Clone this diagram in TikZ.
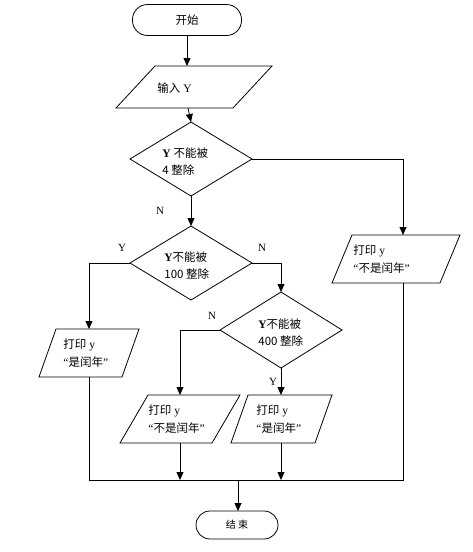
\documentclass[tikz,border=0pt]{standalone}
\usepackage{fontspec}
\setmainfont{Liberation Serif}
\newfontfamily\cjk{Noto Sans CJK SC}
\newcommand{\zh}[1]{{\cjk #1}}
\usetikzlibrary{shapes.geometric,arrows.meta}
\begin{document}
\begin{tikzpicture}[x=1pt,y=-1pt,line width=0.8pt,
  box/.style={inner sep=0pt,outer sep=0pt},
  term/.style={draw,rounded corners=14pt,inner sep=0pt,outer sep=0pt},
  dec/.style={draw,diamond,inner sep=0pt,outer sep=0pt},
  txt/.style={anchor=west,align=left,inner sep=0pt,font=\fontsize{11.5}{18}\selectfont},
  lab/.style={inner sep=0pt,font=\fontsize{11}{13}\selectfont},
  arr/.style={-{Triangle[length=8pt,width=7pt]}}]
\useasboundingbox (0,0) rectangle (473,552);
% terminals
\node[term,minimum width=109pt,minimum height=31pt,rounded corners=15pt,font=\fontsize{11.5}{13}\selectfont] (start) at (187,20) {\zh{开始}};
\node[term,minimum width=82pt,minimum height=28pt,font=\fontsize{10}{12}\selectfont] (end) at (237,525) {\zh{结\ 束}};
% input parallelogram
\node[box,minimum width=156pt,minimum height=42pt] (in) at (194,87) {};
\draw ([xshift=39pt]in.north west) -- (in.north east) -- ([xshift=-39pt]in.south east) -- (in.south west) -- cycle;
\node[txt] (intext) at (157,88) {\zh{输入} Y};
% decisions
\node[dec,minimum width=122pt,minimum height=74pt] (d1) at (191,159) {};
\node[txt,font=\fontsize{11.5}{17}\selectfont] (d1t) at (162,162) {\textbf{Y} \zh{不能被}\\\zh{4 整除}};
\node[dec,minimum width=122pt,minimum height=74pt] (d2) at (191,263) {};
\node[txt,font=\fontsize{11.5}{17}\selectfont] (d2t) at (164,266) {\textbf{Y}\zh{不能被}\\\zh{100 整除}};
\node[dec,minimum width=122pt,minimum height=76pt] (d3) at (281,330) {};
\node[txt,font=\fontsize{11.5}{17}\selectfont] (d3t) at (258,333) {\textbf{Y}\zh{不能被}\\\zh{400 整除}};
% print boxes
\node[box,minimum width=128pt,minimum height=48pt] (pr) at (396,259) {};
\draw ([xshift=20pt]pr.north west) -- (pr.north east) -- ([xshift=-20pt]pr.south east) -- (pr.south west) -- cycle;
\node[txt] (prt) at (353,259) {\zh{打印} y\\``\zh{不是闰年}''};
\node[box,minimum width=100pt,minimum height=48pt] (pl) at (89,353) {};
\draw ([xshift=17pt]pl.north west) -- (pl.north east) -- ([xshift=-17pt]pl.south east) -- (pl.south west) -- cycle;
\node[txt] (plt) at (63,353) {\zh{打印} y\\``\zh{是闰年}''};
\node[box,minimum width=120pt,minimum height=48pt] (pm) at (180,419) {};
\draw ([xshift=28pt]pm.north west) -- (pm.north east) -- ([xshift=-28pt]pm.south east) -- (pm.south west) -- cycle;
\node[txt] (pmt) at (148,419) {\zh{打印} y\\``\zh{不是闰年}''};
\node[box,minimum width=101pt,minimum height=48pt] (p2) at (281.5,419) {};
\draw ([xshift=17pt]p2.north west) -- (p2.north east) -- ([xshift=-17pt]p2.south east) -- (p2.south west) -- cycle;
\node[txt] (p2t) at (256,419) {\zh{打印} y\\``\zh{是闰年}''};
% routing coordinates
\coordinate (rx) at (403,480);
\coordinate (jl) at (89,480);
\coordinate (jm) at (238,480);
\coordinate (ix) at (188,0);
% connectors
\draw[arr] (start.south) -- (start.south |- in.north);
\draw[arr] (in.south -| ix) -- (d1.north);
\draw[arr] (d1.south) -- (d2.north);
\draw[arr] (d1.east) -| (pr.north -| rx);
\draw[arr] (d2.west) -| (pl.north);
\draw[arr] (d2.east) -| (d3.north);
\draw[arr] (d3.west) -| (pm.north);
\draw[arr] (d3.south) -- (d3.south |- p2.north);
\draw (pl.south) -- (jl) -- (rx) -- (pr.south -| rx);
\draw[arr] (pm.south) -- (pm.south |- jl);
\draw[arr] (d3.south |- p2.south) -- (d3.south |- jl);
\draw[arr] (jm) -- (jm |- end.north);
% labels
\node[lab] (n1) at (160,211) {N};
\node[lab] (y2) at (122,248) {Y};
\node[lab] (n2) at (262,248) {N};
\node[lab] (n3) at (212,316) {N};
\node[lab] (y3) at (273,382) {Y};
\end{tikzpicture}
\end{document}
